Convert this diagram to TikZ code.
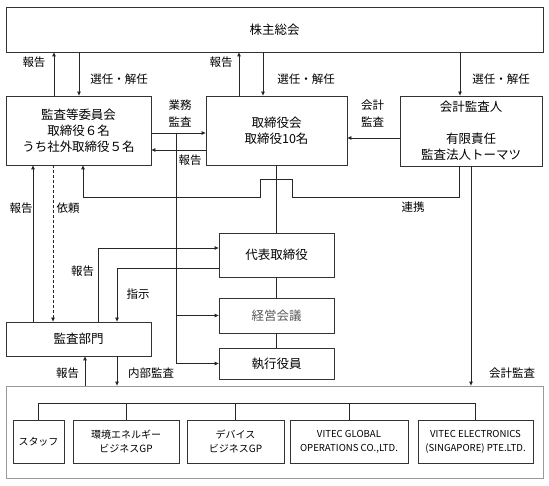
\documentclass[tikz,border=0pt]{standalone}
\usepackage{fontspec}
\setmainfont{Noto Sans CJK JP}
\usetikzlibrary{arrows.meta}
\begin{document}
\begin{tikzpicture}[x=1pt,y=-1pt,
 box/.style={draw=black!80,line width=0.8pt,inner sep=0pt,align=center,font=\fontsize{12.5}{16}\selectfont},
 sbox/.style={box,font=\fontsize{10}{14}\selectfont},
 ln/.style={draw=black!85,line width=0.8pt},
 arr/.style={ln,-{Triangle[length=4pt,width=3.5pt]}},
 lbl/.style={font=\fontsize{11.5}{17}\selectfont,inner sep=0pt,align=center}]
\useasboundingbox (0,0) rectangle (549,486);
% boxes
\node[box,minimum width=537,minimum height=45] (top) at (274.5,29.5) {株主総会};
\node[box,minimum width=145,minimum height=69] (ac) at (78.5,130.5) {監査等委員会\\取締役６名\\うち社外取締役５名};
\node[box,minimum width=141,minimum height=69] (bd) at (276.5,130.5) {取締役会\\取締役10名};
\node[box,minimum width=142,minimum height=70] (aud) at (471,131) {会計監査人\\[16pt]有限責任\\監査法人トーマツ};
\node[box,minimum width=115,minimum height=44] (rep) at (276.5,255) {代表取締役};
\node[box,minimum width=115,minimum height=35,text=black!65] (mgmt) at (276.5,315.5) {経営会議};
\node[box,minimum width=115,minimum height=31] (exec) at (276.5,363.5) {執行役員};
\node[box,minimum width=145,minimum height=34] (ia) at (78.5,339) {監査部門};
\node[draw=black!40,line width=0.8pt,minimum width=537,minimum height=92,inner sep=0pt] (grp) at (274.5,432) {};
\node[sbox,minimum width=51,minimum height=43] (staff) at (38.5,441.5) {スタッフ};
\node[sbox,minimum width=106,minimum height=43] (env) at (126,441.5) {環境エネルギー\\ビジネスGP};
\node[sbox,minimum width=97,minimum height=43] (dev) at (235.5,441.5) {デバイス\\ビジネスGP};
\node[sbox,minimum width=118,minimum height=43,font=\fontsize{9.6}{14}\selectfont] (vgo) at (349,441.5) {VITEC GLOBAL\\OPERATIONS CO.,LTD.};
\node[sbox,minimum width=115,minimum height=43,font=\fontsize{9.6}{14}\selectfont] (vel) at (475.5,441.5) {VITEC ELECTRONICS\\(SINGAPORE) PTE.LTD.};
% connectors top
\draw[arr] (54,0 |- ac.north) -- (54,0 |- top.south);
\draw[arr] (79,0 |- top.south) -- (79,0 |- ac.north);
\draw[arr] (239,0 |- bd.north) -- (239,0 |- top.south);
\draw[arr] (263,0 |- top.south) -- (263,0 |- bd.north);
\draw[arr] (460,0 |- top.south) -- (460,0 |- aud.north);
% middle row
\draw[arr] (ac.east |- 0,133) -- (bd.west |- 0,133);
\draw[arr] (bd.west |- 0,150) -- (ac.east |- 0,150);
\draw[arr] (aud.west |- 0,138) -- (bd.east |- 0,138);
\coordinate (br) at (176,133);
\draw[arr] (br) |- (exec.west);
\draw[arr] (176,0 |- mgmt.west) -- (mgmt.west);
\draw[ln] (bd.south) -- (rep.north) (rep.south) -- (mgmt.north) (mgmt.south) -- (exec.north);
% renkei
\draw[arr] (459,0 |- aud.south) -- (459,197) -- (292,197) -- (292,179) -- (260,179) -- (260,197) -- (83,197) -- (83,0 |- ac.south);
\draw[arr] (471,0 |- aud.south) -- (471,0 |- grp.north);
% audit dept
\draw[arr] (33,0 |- ia.north) -- (33,0 |- ac.south);
\draw[arr,dash pattern=on 3pt off 2pt] (53,0 |- ac.south) -- (53,0 |- ia.north);
\draw[arr] (98,0 |- ia.north) |- (rep.west |- 0,248);
\draw[arr] (rep.west |- 0,268) -| (117,0 |- ia.north);
\draw[arr] (85,0 |- grp.north) -- (85,0 |- ia.south);
\draw[arr] (117,0 |- ia.south) -- (117,0 |- grp.north);
% tree
\coordinate (bus) at (0,403);
\draw[ln] (staff.north) -- (staff.north |- bus) -- (vel.north |- bus) -- (vel.north);
\draw[ln] (env.north) -- (env.north |- bus);
\draw[ln] (dev.north) -- (dev.north |- bus);
\draw[ln] (vgo.north) -- (vgo.north |- bus);
% labels
\node[lbl] (l1) at (34,62) {報告};
\node[lbl] (l2) at (119,79) {選任・解任};
\node[lbl] (l3) at (221,62) {報告};
\node[lbl] (l4) at (306,79) {選任・解任};
\node[lbl] (l5) at (501,79) {選任・解任};
\node[lbl] (l6) at (180,114) {業務\\監査};
\node[lbl] (l7) at (190,160) {報告};
\node[lbl] (l8) at (372.5,114) {会計\\監査};
\node[lbl] (l9) at (413,207) {連携};
\node[lbl] (l10) at (21,208) {報告};
\node[lbl] (l11) at (68,208) {依頼};
\node[lbl] (l12) at (82.5,271) {報告};
\node[lbl] (l13) at (138,294) {指示};
\node[lbl] (l14) at (67.5,373) {報告};
\node[lbl] (l15) at (151,373) {内部監査};
\node[lbl] (l16) at (512,373) {会計監査};
\end{tikzpicture}
\end{document}
